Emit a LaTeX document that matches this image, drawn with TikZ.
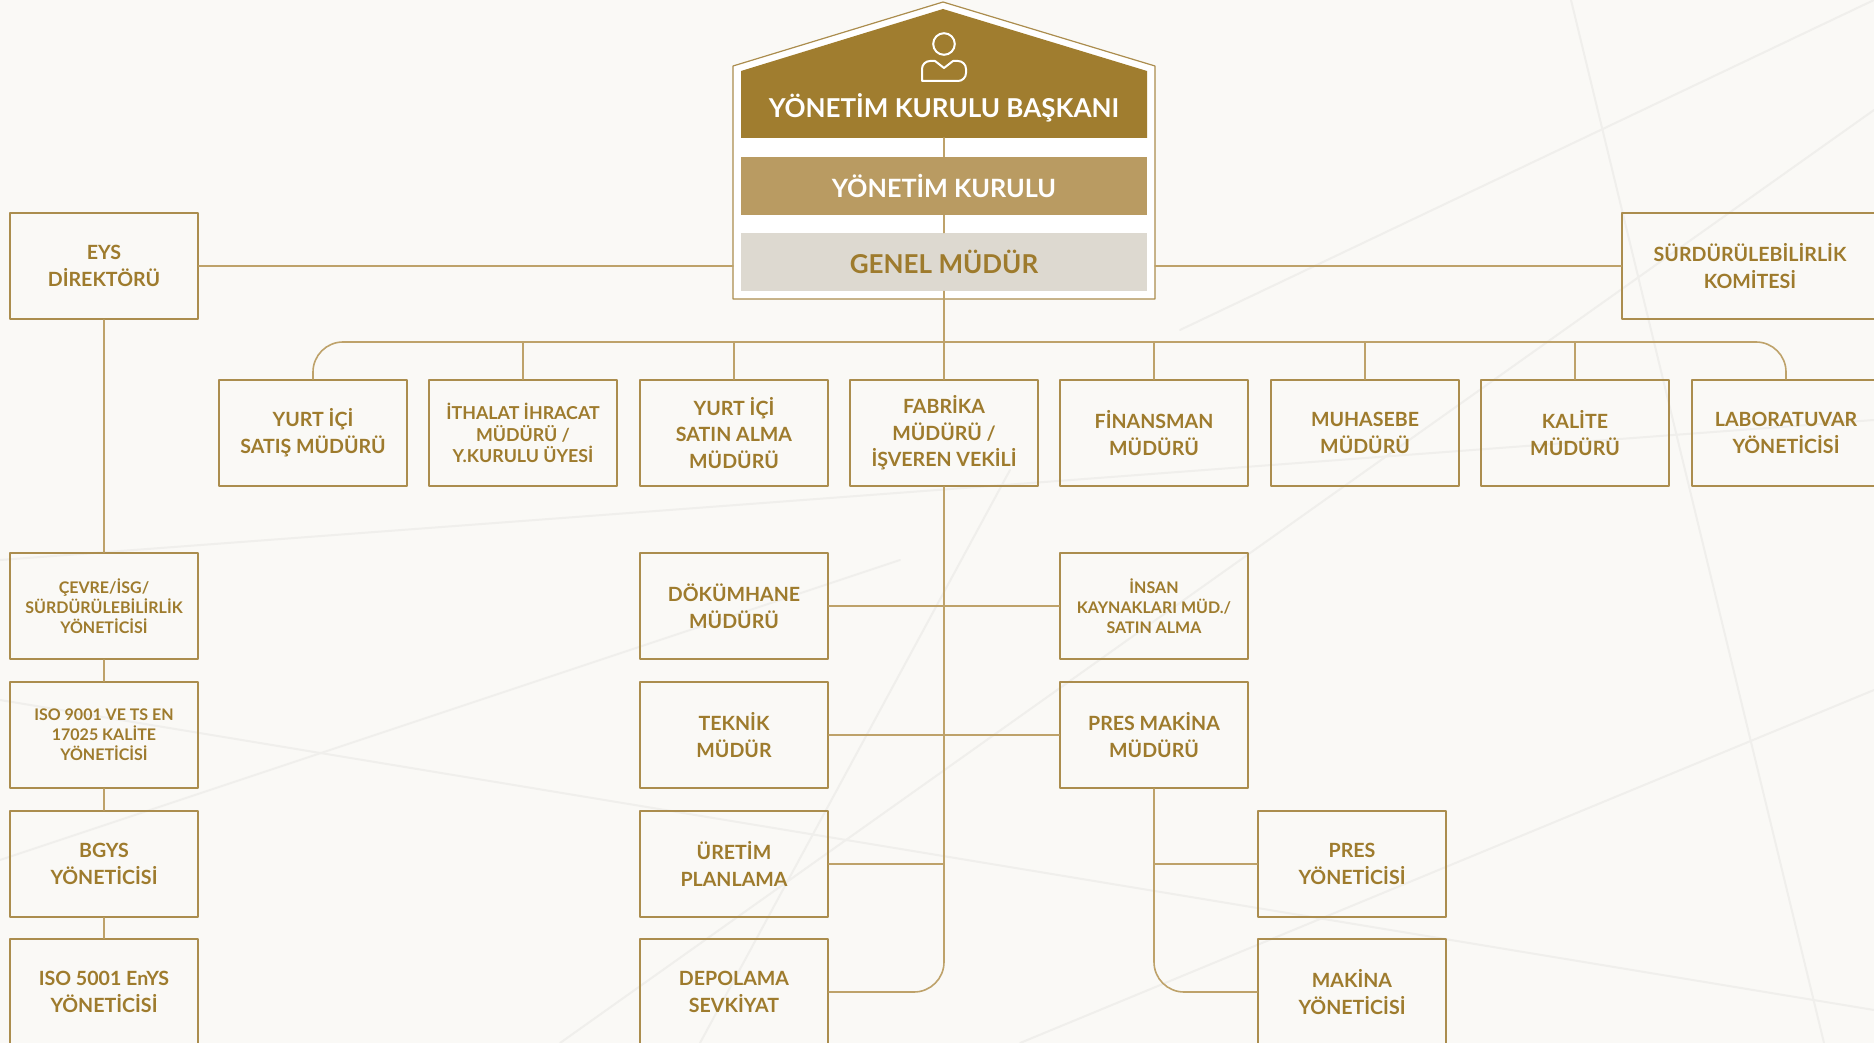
\documentclass[tikz,border=0pt]{standalone}
\usepackage{fontspec}
\setmainfont{Lato}
\definecolor{paper}{HTML}{FAF9F6}
\definecolor{faint}{HTML}{F0EFEC}
\definecolor{golden}{HTML}{9E7B2D}
\definecolor{boxline}{HTML}{AB8D4E}
\definecolor{linegold}{HTML}{BEA26A}
\definecolor{darkband}{HTML}{A07D2F}
\definecolor{midband}{HTML}{B99B62}
\definecolor{greyband}{HTML}{DDD9D0}
\begin{document}
\begin{tikzpicture}[x=0.5pt, y=-0.5pt, line join=round, line cap=round,
	box/.style={draw=boxline, line width=0.9pt, minimum width=94pt, minimum height=53pt,
		inner sep=1pt, align=center, text=golden, font=\fontsize{9.8}{13.3}\selectfont\bfseries},
	small/.style={font=\fontsize{8}{10}\selectfont\bfseries},
	mid/.style={font=\fontsize{8.9}{10.9}\selectfont\bfseries},
	conn/.style={draw=linegold, line width=0.8pt},
	band/.style={minimum width=203pt, minimum height=29pt, inner sep=0pt, align=center},
	bgline/.style={draw=faint, line width=1pt}]
				\useasboundingbox (0,0) rectangle (1874,1043);
				\clip (0,0) rectangle (1874,1043);
				\fill[paper] (0,0) rectangle (1874,1043);
				% faint background lines
				\draw[bgline] (1571,0) -- (1824,1043);
				\draw[bgline] (1874,110) -- (560,1043);
				\draw[bgline] (0,560) -- (1874,420);
				\draw[bgline] (0,700) -- (1874,1010);
				\draw[bgline] (1020,1043) -- (1874,690);
				\draw[bgline] (1180,330) -- (1874,0);
				\draw[bgline] (700,1043) -- (1010,470);
				\draw[bgline] (0,860) -- (900,560);
				
				\path
				(944,342) coordinate (bus)
				(733,266) coordinate (FL)
				(1155,266) coordinate (FR)
				(944,138) coordinate (BB)
				;
				% header
				\draw[boxline, line width=0.6pt, fill=white] (733,66) -- (943,2) -- (1155,66) -- (1155,299) -- (733,299) -- cycle;
				\fill[darkband] (741,71) -- (943,9) -- (1147,71) -- (1147,138) -- (741,138) -- cycle;
				\draw[white, line width=1pt] (944,44) circle (5.4pt);
				\draw[white, line width=1pt, rounded corners=4pt] (922,81) -- (922,61) [sharp corners] -- (935,61) -- (944,68) -- (953,61) [rounded corners=4pt] -- (966,61) -- (966,81) [sharp corners] -- cycle;
				\node (bkn) at (944,108) [text=white, font=\fontsize{13}{16}\selectfont\bfseries] {YÖNETİM KURULU BAŞKANI};
				\node (yk) at (944,186) [band, fill=midband, text=white, font=\fontsize{12.6}{15}\selectfont\bfseries] {YÖNETİM KURULU};
				\node (gm) at (944,262) [band, fill=greyband, text=golden, font=\fontsize{13}{15}\selectfont\bfseries] {GENEL MÜDÜR};
				
				% side boxes
				\node (eys) at (104,266) [box] {EYS\\DİREKTÖRÜ};
				\node (sk) at (1750,266) [box, minimum width=128pt] {SÜRDÜRÜLEBİLİRLİK\\KOMİTESİ};
				
				% first row
				\node (yis) at (313,433) [box] {YURT İÇİ\\SATIŞ MÜDÜRÜ};
				\node (ith) at (523,433) [box, mid] {İTHALAT İHRACAT\\MÜDÜRÜ /\\Y.KURULU ÜYESİ};
				\node (ysa) at (734,433) [box] {YURT İÇİ\\SATIN ALMA\\MÜDÜRÜ};
				\node (fab) at (944,433) [box] {FABRİKA\\MÜDÜRÜ /\\İŞVEREN VEKİLİ};
				\node (fin) at (1154,433) [box] {FİNANSMAN\\MÜDÜRÜ};
				\node (muh) at (1365,433) [box] {MUHASEBE\\MÜDÜRÜ};
				\node (kal) at (1575,433) [box] {KALİTE\\MÜDÜRÜ};
				\node (lab) at (1786,433) [box] {LABORATUVAR\\YÖNETİCİSİ};
				
				% left column
				\node (cev) at (104,606) [box, small] {ÇEVRE/İSG/\\SÜRDÜRÜLEBİLİRLİK\\YÖNETİCİSİ};
				\node (iso9) at (104,735) [box, small] {ISO 9001 VE TS EN\\17025 KALİTE\\YÖNETİCİSİ};
				\node (bgys) at (104,864) [box] {BGYS\\YÖNETİCİSİ};
				\node (iso5) at (104,992) [box] {ISO 5001 EnYS\\YÖNETİCİSİ};
				
				% under the factory
				\node (dok) at (734,606) [box] {DÖKÜMHANE\\MÜDÜRÜ};
				\node (tek) at (734,735) [box] {TEKNİK\\MÜDÜR};
				\node (ure) at (734,864) [box] {ÜRETİM\\PLANLAMA};
				\node (dep) at (734,992) [box] {DEPOLAMA\\SEVKİYAT};
				\node (ins) at (1154,606) [box, small] {İNSAN\\KAYNAKLARI MÜD./\\SATIN ALMA};
				\node (pmk) at (1154,735) [box] {PRES MAKİNA\\MÜDÜRÜ};
				\node (pyn) at (1352,864) [box] {PRES\\YÖNETİCİSİ};
				\node (myn) at (1352,992) [box] {MAKİNA\\YÖNETİCİSİ};
				
				% connectors
				\draw[conn] (BB) -- (yk.north);
				\draw[conn] (yk.south) -- (gm.north);
				\draw[conn] (eys.east) -- (FL);
				\draw[conn] (FR) -- (sk.west);
				\draw[conn] (gm.south) -- (fab.north);
				\draw[conn, rounded corners=15pt] (yis.north) |- (bus) -| (lab.north);
				\draw[conn] (ith.north) -- (ith.north |- bus);
				\draw[conn] (ysa.north) -- (ysa.north |- bus);
				\draw[conn] (fin.north) -- (fin.north |- bus);
				\draw[conn] (muh.north) -- (muh.north |- bus);
				\draw[conn] (kal.north) -- (kal.north |- bus);
				
				\draw[conn] (eys.south) -- (cev.north);
				\draw[conn] (cev.south) -- (iso9.north);
				\draw[conn] (iso9.south) -- (bgys.north);
				\draw[conn] (bgys.south) -- (iso5.north);
				
				\draw[conn, rounded corners=15pt] (fab.south) |- (dep.east);
				\draw[conn] (dok.east) -- (ins.west);
				\draw[conn] (tek.east) -- (pmk.west);
				\draw[conn] (ure.east) -- (ure.east -| fab.south);
				\draw[conn, rounded corners=15pt] (pmk.south) |- (myn.west);
				\draw[conn] (pyn.west) -- (pyn.west -| pmk.south);
\end{tikzpicture}
\end{document}
